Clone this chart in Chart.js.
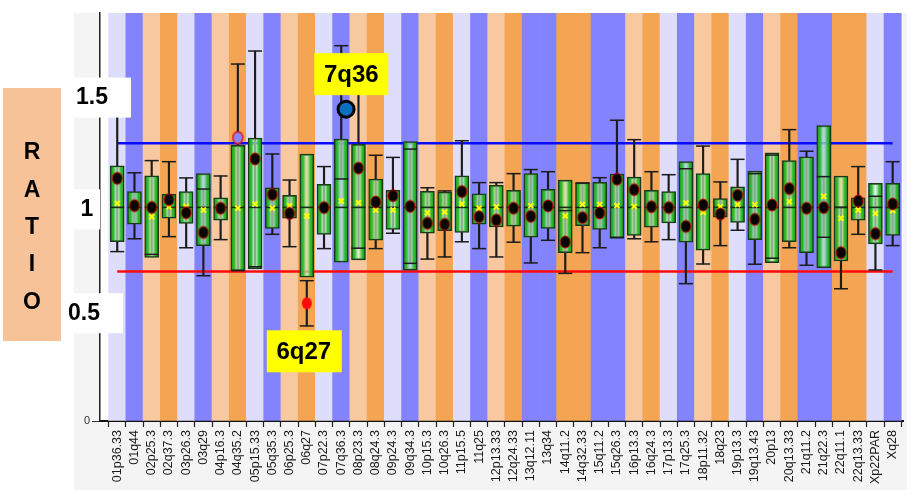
<!DOCTYPE html>
<html><head><meta charset="utf-8">
<script src="https://cdn.jsdelivr.net/npm/chart.js@4.4.0/dist/chart.umd.min.js"></script>
<style>html,body{margin:0;padding:0;background:#fff;}#wrap{width:914px;height:494px;position:relative;}</style>
</head><body><div id="wrap"><canvas id="c" width="914" height="494"></canvas></div>
<script>
const categories = ['01p36.33','01q44','02p25.3','02q37.3','03p26.3','03q29','04p16.3','04q35.2','05p15.33','05q35.3',
 '06p25.3','06q27','07p22.3','07q36.3','08p23.3','08q24.3','09p24.3','09q34.3','10p15.3','10q26.3',
 '11p15.5','11q25','12p13.33','12q24.33','13q12.11','13q34','14q11.2','14q32.33','15q11.2','15q26.3',
 '16p13.3','16q24.3','17p13.3','17q25.3','18p11.32','18q23','19p13.3','19q13.43','20p13','20q13.33',
 '21q11.2','21q22.3','22q11.1','22q13.33','Xp22PAR','Xq28'];
const boxHigh = [1.195,1.074,1.148,1.061,1.074,1.158,1.045,1.291,1.325,1.091,
 1.057,1.249,1.108,1.320,1.295,1.133,1.080,1.308,1.075,1.072,
 1.148,1.064,1.103,1.080,1.158,1.085,1.128,1.116,1.117,1.156,
 1.142,1.080,1.074,1.214,1.158,1.041,1.096,1.170,1.255,1.219,
 1.237,1.383,1.147,1.045,1.113,1.113];
const boxLow = [0.839,0.921,0.766,0.949,0.925,0.821,0.940,0.704,0.712,0.902,
 0.949,0.673,0.874,0.743,0.754,0.847,0.897,0.706,0.879,0.891,
 0.883,0.922,0.908,0.912,0.860,0.902,0.788,0.914,0.897,0.855,
 0.869,0.907,0.927,0.837,0.800,0.954,0.930,0.849,0.741,0.839,
 0.788,0.718,0.749,0.940,0.829,0.869];
const whiskerHigh = [1.45,1.162,1.219,1.214,1.138,1.086,1.147,1.671,1.732,1.250,
 1.128,0.657,1.191,1.757,1.60,1.244,1.234,1.273,1.092,1.077,
 1.312,1.116,1.116,1.158,1.177,1.167,0.985,1.114,1.139,1.408,
 1.317,1.167,1.153,1.181,1.287,1.119,1.225,1.158,1.245,1.364,
 1.263,1.144,1.000,1.191,1.052,1.214];
const whiskerLow = [0.793,0.853,0.780,0.863,0.811,0.680,0.849,0.704,0.722,0.874,
 0.816,0.445,0.807,1.133,0.809,0.807,0.879,0.738,0.758,0.768,
 0.839,0.807,0.768,0.837,0.740,0.846,0.691,0.788,0.811,0.860,
 0.853,0.839,0.849,0.643,0.735,0.821,0.893,0.734,0.762,0.811,
 0.729,0.860,0.619,0.874,0.707,0.821];
const medians = [1,1,1,1,1,1,1,1,1,1, 1,1,1,1,1,1,1,1,1,1, 1,1,1,1,1,1,1,1,1,1,
 1,1,1,1,1,1,1,1,1,1, 1,1,1,1,1,1];
const means = [1.019,1.000,0.956,1.003,1.003,0.988,1.000,0.996,1.016,0.996,
 1.008,0.960,1.000,1.030,1.022,0.988,0.988,1.000,0.975,0.978,
 1.016,0.996,1.003,1.000,1.008,1.000,0.960,1.014,1.014,1.008,
 1.005,1.000,1.000,1.021,0.977,1.003,1.013,1.013,1.000,1.027,
 1.000,1.052,0.949,0.988,0.972,0.985];
const samples = [1.136,1.008,1.000,1.036,0.975,0.883,0.996,1.326,1.227,1.061,
 0.972,null,0.999,null,1.184,1.025,1.055,1.005,0.926,0.921,
 1.074,0.956,0.941,0.996,0.958,1.007,0.838,0.952,0.974,1.132,
 1.083,1.003,0.999,0.911,1.011,0.969,1.057,0.944,1.011,1.088,
 0.996,0.999,0.788,1.030,0.877,1.016];
const lossLabel = '6q27', lossCategory = '06q27', lossValue = 0.551;
const gainLabel = '7q36', gainCategory = '07q36.3', gainValue = 1.46;
const upperLimit = 1.3, lowerLimit = 0.7;
const yLabels = ['1.5','1','0.5'];
const yLabelValues = [1.5, 1, 0.5];
const axisTitle = 'RATIO';

const YMAX = 1.91;
const idx = categories.map((c, i) => i);
const lossIdx = categories.indexOf(lossCategory);
const gainIdx = categories.indexOf(gainCategory);

function bandColor(label) {
  const m = label.match(/^(\d+|X)([pq])/);
  const chr = m[1] === 'X' ? 1 : parseInt(m[1], 10);
  const odd = chr % 2 === 1;
  if (m[2] === 'p') return odd ? '#dedefc' : '#f8c8a0';
  return odd ? '#8383fd' : '#f3a553';
}

function ellipseImg(fill, stroke, rx, ry, lw) {
  const c = document.createElement('canvas');
  c.width = Math.ceil(rx * 2 + lw * 2 + 2);
  c.height = Math.ceil(ry * 2 + lw * 2 + 2);
  const g = c.getContext('2d');
  g.beginPath();
  g.ellipse(c.width / 2, c.height / 2, rx, ry, 0, 0, Math.PI * 2);
  g.fillStyle = fill; g.fill();
  if (lw) { g.lineWidth = lw; g.strokeStyle = stroke; g.stroke(); }
  return c;
}
const blackDot = ellipseImg('#050505', '#d40000', 5, 6, 1);
const lilacDot = ellipseImg('#8c84f0', '#e01010', 5, 6, 1.3);
const redDot = ellipseImg('#ff0a0a', '#ff0a0a', 5, 6, 0);

const boxFill = (ctx) => {
  const chart = ctx.chart; const xs = chart.scales.x;
  if (!xs || !chart.chartArea || ctx.dataIndex == null) return '#22a822';
  const cx = xs.getPixelForValue(ctx.dataIndex);
  const g = chart.ctx.createLinearGradient(cx - 7, 0, cx + 7, 0);
  g.addColorStop(0, 'rgba(26,156,26,1)');
  g.addColorStop(0.25, 'rgba(44,190,44,0.96)');
  g.addColorStop(0.5, 'rgba(232,255,232,0.6)');
  g.addColorStop(0.75, 'rgba(44,190,44,0.96)');
  g.addColorStop(1, 'rgba(26,156,26,1)');
  return g;
};

const decor = {
  id: 'decor',
  beforeDraw(chart) {
    const c = chart.ctx, a = chart.chartArea;
    c.save();
    c.fillStyle = '#f4f4f4';
    c.fillRect(74, a.top, a.right + 4 - 74, 490 - a.top);
    c.fillStyle = '#ffffff';
    c.fillRect(a.left, a.top, a.right - a.left, a.bottom - a.top);
    c.restore();
  },
  afterDraw(chart) {
    const c = chart.ctx, ys = chart.scales.y, xs = chart.scales.x;
    c.save();
    c.textBaseline = 'middle'; c.textAlign = 'center';
    c.font = 'bold 23px "Liberation Sans", Arial, sans-serif';
    const boxes = [[74, 131, 92, -3], [74, 100, 87, 2], [59, 123, 84, -1]];
    yLabels.forEach((t, i) => {
      const b = boxes[i];
      const py = ys.getPixelForValue(yLabelValues[i]) + b[3];
      c.fillStyle = '#ffffff';
      c.fillRect(b[0], py - 20, b[1] - b[0], 40);
      c.fillStyle = '#000';
      c.fillText(t, b[2], py);
    });
    c.fillStyle = '#f8c298';
    c.fillRect(3, 88, 58, 253);
    c.fillStyle = '#000';
    axisTitle.split('').forEach((ch, i) => c.fillText(ch, 32, 153 + i * 37.3));
    c.font = 'bold 24px "Liberation Sans", Arial, sans-serif';
    const gx = xs.getPixelForValue(gainIdx) + 10, gy = ys.getPixelForValue(gainValue) - 35;
    c.fillStyle = '#ffff00'; c.fillRect(gx - 37, gy - 21, 74, 42);
    c.fillStyle = '#000'; c.fillText(gainLabel, gx, gy + 1);
    const lx = xs.getPixelForValue(lossIdx) - 3, ly = ys.getPixelForValue(lossValue) + 48;
    c.fillStyle = '#ffff00'; c.fillRect(lx - 37, ly - 21, 75, 42);
    c.fillStyle = '#000'; c.fillText(lossLabel, lx, ly + 1);
    c.restore();
  }
};

new Chart(document.getElementById('c'), {
  type: 'bar',
  data: {
    datasets: [
      { type: 'bar', label: 'bands', grouped: false, order: 10,
        data: idx.map(i => ({ x: i, y: YMAX })),
        backgroundColor: categories.map(bandColor), borderWidth: 0,
        barPercentage: 1, categoryPercentage: 1 },
      { type: 'line', label: 'upper', order: 9,
        data: idx.map(i => ({ x: i, y: upperLimit })),
        borderColor: '#0a0aff', borderWidth: 2.5, pointRadius: 0, fill: false },
      { type: 'line', label: 'lower', order: 9,
        data: idx.map(i => ({ x: i, y: lowerLimit })),
        borderColor: '#ff0a0a', borderWidth: 2.5, pointRadius: 0, fill: false },
      { type: 'bar', label: 'whisker', grouped: false, order: 8,
        data: idx.map(i => ({ x: i, y: [whiskerLow[i], whiskerHigh[i]] })),
        backgroundColor: '#1c1c1c', borderWidth: 0, barThickness: 1.5 },
      { type: 'bar', label: 'box', grouped: false, order: 7,
        data: idx.map(i => ({ x: i, y: [boxLow[i], boxHigh[i]] })),
        backgroundColor: boxFill, borderColor: '#1a3a1a', borderWidth: 1.5,
        borderSkipped: false, barThickness: 14 },
      { type: 'scatter', label: 'caps', order: 6,
        data: idx.flatMap(i => [{ x: i, y: whiskerLow[i] }, { x: i, y: whiskerHigh[i] }]),
        pointStyle: 'line', pointRadius: 7, pointHoverRadius: 7,
        pointBorderColor: '#1c1c1c', pointBorderWidth: 1.5 },
      { type: 'scatter', label: 'median', order: 5,
        data: idx.map(i => ({ x: i, y: medians[i] })),
        pointStyle: 'line', pointRadius: 7, pointHoverRadius: 7,
        pointBorderColor: '#143014', pointBorderWidth: 1.6 },
      { type: 'scatter', label: 'mean', order: 4,
        data: idx.map(i => ({ x: i, y: means[i] })),
        pointStyle: 'crossRot', pointRadius: 3.5, pointHoverRadius: 3.5,
        pointBorderColor: '#ffff00', pointBorderWidth: 2 },
      { type: 'scatter', label: 'sample', order: 3,
        data: idx.map(i => ({ x: i, y: samples[i] })),
        pointStyle: idx.map(i => i === 7 ? lilacDot : blackDot) },
      { type: 'scatter', label: 'loss', order: 2,
        data: [{ x: lossIdx, y: lossValue }], pointStyle: redDot },
      { type: 'scatter', label: 'gain', order: 1,
        data: [{ x: gainIdx + 0.28, y: gainValue }],
        pointRadius: 8, pointHoverRadius: 8, pointBackgroundColor: '#0b6fc0',
        pointBorderColor: '#000', pointBorderWidth: 3 }
    ]
  },
  options: {
    responsive: false, animation: false, events: [],
    layout: { padding: { top: 13, right: 9, left: 0, bottom: 0 } },
    plugins: { legend: { display: false }, tooltip: { enabled: false } },
    scales: {
      x: {
        type: 'linear', min: -1, max: 45.6, offset: false,
        afterFit(s) { s.height = 73; },
        afterBuildTicks(s) { s.ticks = [{ value: -1 }].concat(idx.map(i => ({ value: i }))); },
        grid: { drawOnChartArea: false, tickLength: 6, color: '#222', tickWidth: 1.2 },
        border: { display: true, color: '#111', width: 2 },
        ticks: {
          autoSkip: false, maxRotation: 90, minRotation: 90, padding: 3,
          color: '#1a1a1a', font: { family: '"Liberation Sans", Arial, sans-serif', size: 12.5 },
          callback: (v) => (categories[v] !== undefined ? categories[v] : '')
        }
      },
      y: {
        min: 0, max: YMAX,
        afterFit(s) { s.width = 100; },
        afterBuildTicks(s) { s.ticks = [{ value: 0 }]; },
        grid: { drawOnChartArea: false, tickLength: 8, color: '#333' },
        border: { display: true, color: '#222', width: 1.5 },
        ticks: { color: '#333', padding: 2, font: { family: '"Liberation Sans", Arial, sans-serif', size: 11 } }
      }
    }
  },
  plugins: [decor]
});
</script></body></html>
